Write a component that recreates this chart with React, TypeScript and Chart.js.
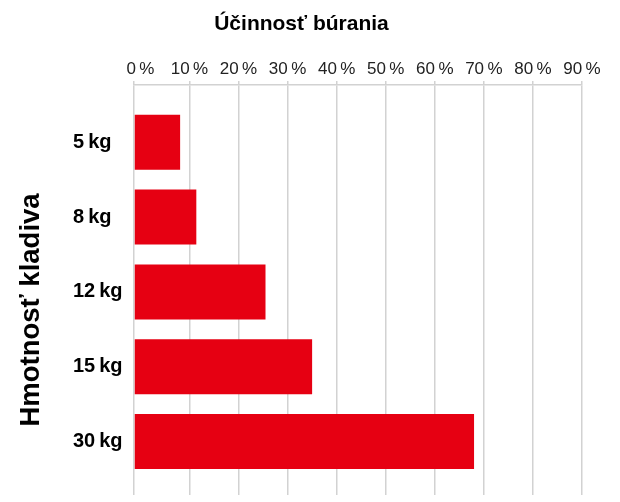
import { useEffect, useRef } from 'react';
import { Chart, registerables } from 'chart.js';

Chart.register(...registerables);

// ---- data ----
const chartTitle = 'Účinnosť búrania';
const yAxisTitle = 'Hmotnosť kladiva';
const categories = ['5\u2009kg', '8\u2009kg', '12\u2009kg', '15\u2009kg', '30\u2009kg'];
const efficiency = [8.1, 11.4, 25.5, 35.0, 68.0];
const tickValues = [0, 10, 20, 30, 40, 50, 60, 70, 80, 90];
const axisStart = -1.3;

export default function App() {
  const ref = useRef<HTMLCanvasElement>(null);

  useEffect(() => {
    document.body.style.margin = '0';
    document.body.style.overflow = 'hidden';
    const FONT = "'Liberation Sans', Arial, Helvetica, sans-serif";
    const GRID = '#d2d2d2';
    const RED = '#E60012';

    const titles = {
      id: 'titles',
      afterDraw(chart: any) {
        const { ctx } = chart;
        ctx.save();
        ctx.fillStyle = '#000';
        ctx.textAlign = 'center';
        ctx.textBaseline = 'middle';
        ctx.font = `bold 21px ${FONT}`;
        ctx.fillText(chartTitle, 301.5, 24);
        ctx.translate(31, 310);
        ctx.rotate(-Math.PI / 2);
        ctx.font = `bold 27.5px ${FONT}`;
        ctx.fillText(yAxisTitle, 0, 0);
        ctx.restore();
      },
    };

    const chart = new Chart(ref.current!, {
      type: 'bar',
      data: {
        datasets: [
          {
            data: efficiency.map((v, i) => ({ x: v, y: i })),
            backgroundColor: RED,
            borderWidth: 0,
            base: axisStart,
            barPercentage: 0.735,
            categoryPercentage: 1,
          } as any,
        ],
      },
      options: {
        animation: false,
        responsive: true,
        maintainAspectRatio: false,
        indexAxis: 'y',
        layout: { padding: { left: 73, right: 38, top: 56, bottom: 7 } },
        plugins: {
          legend: { display: false },
          tooltip: { enabled: false },
          title: { display: false },
        },
        scales: {
          x: {
            type: 'linear',
            position: 'top',
            min: axisStart,
            max: 90,
            afterBuildTicks: (s: any) => {
              s.ticks = [{ value: axisStart }, ...tickValues.map((v) => ({ value: v }))];
            },
            afterFit: (s: any) => {
              s.height = 29;
              s.paddingLeft = 0;
              s.paddingRight = 0;
            },
            ticks: {
              padding: 1,
              color: '#222',
              font: { family: FONT, size: 17 },
              callback: (v: any) => (v < 0 ? '' : `${v}\u2009%`),
              autoSkip: false,
              maxRotation: 0,
            },
            grid: {
              color: (c: any) => (c.tick && c.tick.value === 0 ? 'rgba(0,0,0,0)' : GRID),
              lineWidth: 1.5,
              tickLength: 4,
              drawTicks: true,
            },
            border: { display: true, color: GRID, width: 1.5 },
          },
          y: {
            type: 'linear',
            reverse: true,
            offset: false,
            min: -0.766,
            max: 4.715,
            afterBuildTicks: (s: any) => {
              s.ticks = categories.map((_, i) => ({ value: i }));
            },
            afterFit: (s: any) => {
              s.width = 61;
              s.paddingTop = 0;
              s.paddingBottom = 0;
            },
            ticks: {
              crossAlign: 'far',
              padding: 11,
              color: '#000',
              font: { family: FONT, size: 20, weight: 'bold' },
              callback: (v: any) => categories[v] ?? '',
              autoSkip: false,
            },
            grid: { display: false, drawTicks: false, offset: false },
            border: { display: false },
          },
        },
      } as any,
      plugins: [titles],
    });
    return () => chart.destroy();
  }, []);

  return (
    <div style={{ width: 620, height: 502, position: 'relative' }}>
      <canvas ref={ref} />
    </div>
  );
}
